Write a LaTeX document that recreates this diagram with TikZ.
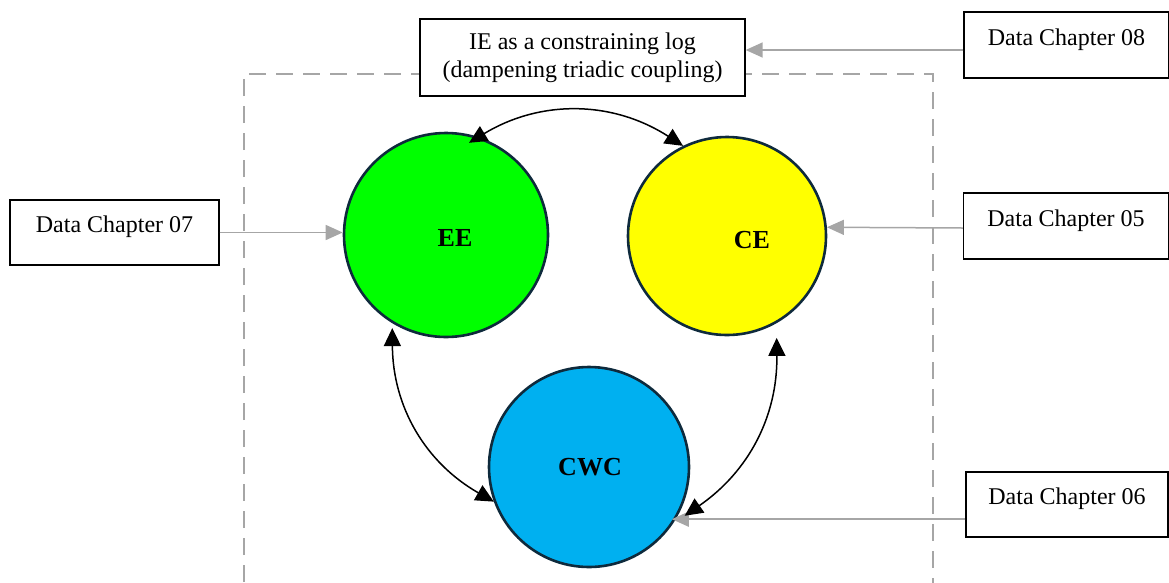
\documentclass[tikz,border=0pt]{standalone}
\usepackage{fontspec}
\setmainfont{Liberation Serif}
\usetikzlibrary{arrows.meta,calc}
\definecolor{eegreen}{HTML}{00FF00}
\definecolor{ceyellow}{HTML}{FFFF00}
\definecolor{cwcblue}{HTML}{00B0F0}
\definecolor{rimblue}{HTML}{0E2A3C}
\definecolor{linkgray}{HTML}{A6A6A6}
\begin{document}
\begin{tikzpicture}[x=1pt,y=-1pt,
  databox/.style={draw=black,line width=1.3pt,fill=white,inner sep=0pt,
    minimum width=205pt,minimum height=66pt,text depth=16pt,
    font=\fontsize{24}{28}\selectfont},
  topbox/.style={draw=black,line width=1.3pt,fill=white,inner sep=0pt,
    minimum width=325pt,minimum height=77pt,align=center,
    font=\fontsize{24}{28}\selectfont},
  bubble/.style={circle,draw=rimblue,line width=2.6pt,inner sep=0pt},
  tag/.style={font=\fontsize{26}{30}\selectfont\bfseries},
  feed/.style={draw=linkgray,line width=1.5pt,-{Triangle[length=17pt,width=15pt]}},
  couple/.style={draw=black,line width=1.5pt,
    {Triangle[length=18pt,width=17pt]}-{Triangle[length=18pt,width=17pt]}}]
\useasboundingbox (0,0) rectangle (1169,582);

% dashed system boundary, open at the bottom
\draw[linkgray,line width=2.4pt,dash pattern=on 17pt off 10pt,dash phase=9pt]
  (244,600) -- (244,74) -- (933,74) -- (933,600);

% the three coupled elements
\node[bubble,fill=eegreen,minimum size=204pt] (EE) at (446,235) {};
\node[bubble,fill=ceyellow,minimum size=198pt] (CE) at (727,236) {};
\node[bubble,fill=cwcblue,minimum size=200pt] (CWC) at (589,467) {};
\node[tag] (EEl) at (455,238) {EE};
\node[tag] (CEl) at (752,240) {CE};
\node[tag] (CWCl) at (590,467) {CWC};

% constraint box and data sources
\node[topbox] (IE) at (582.5,57.5) {IE as a constraining log\\(dampening triadic coupling)};
\node[databox] (d08) at (1066.5,45) {Data Chapter 08};
\node[databox,minimum width=209pt,minimum height=65pt] (d07) at (114.5,232.5) {Data Chapter 07};
\node[databox] (d05) at (1066,226) {Data Chapter 05};
\node[databox,minimum width=202pt,minimum height=65pt] (d06) at (1067,504.5) {Data Chapter 06};

% data feeds
\draw[feed] ([yshift=-5pt]d08.west) -- ([yshift=-5pt]d08.west -| IE.east);
\draw[feed] (d07.east) -- (d07.east -| EE.west);
\draw[feed] ([yshift=-2pt]d05.west) -- (CE.5);
\draw[feed] (d06.west |- CWC.-31) -- ([xshift=-4pt]CWC.-31);

% triadic coupling
\draw[couple] ($(EE)!0.92!(EE.76)$) to[bend left=32] (CE.116);
\draw[couple] ($(EE)!1.04!(EE.-120)$) to[bend right=30] (CWC.-160);
\draw[couple] ($(CE)!1.13!(CE.-64)$) to[bend left=28] ($(CWC)!1.06!(CWC.-27)$);
\end{tikzpicture}
\end{document}
